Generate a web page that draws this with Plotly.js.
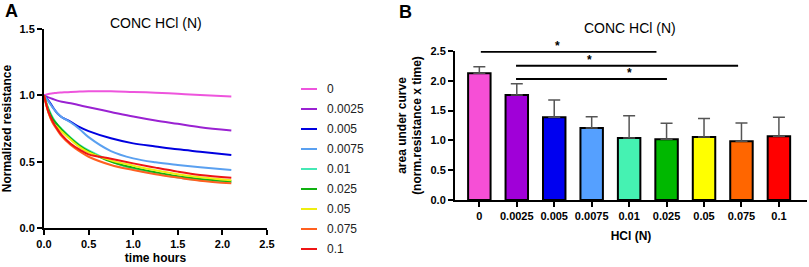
<!DOCTYPE html>
<html>
<head>
<meta charset="utf-8">
<script src="https://cdn.plot.ly/plotly-3.0.1.min.js"></script>
<style>html,body{margin:0;padding:0;background:#fff;}#chart{width:809px;height:267px;}</style>
</head>
<body>
<div id="chart"></div>
<script>
// ---------- Data ----------
const concLabels = ["0","0.0025","0.005","0.0075","0.01","0.025","0.05","0.075","0.1"];
const timeHours = [0, 0.05, 0.1, 0.15, 0.2, 0.3, 0.4, 0.5, 0.75, 1.0, 1.25, 1.5, 1.75, 2.1];
const res_0      = [1.0, 1.01, 1.015, 1.02, 1.022, 1.026, 1.028, 1.03, 1.03, 1.025, 1.02, 1.012, 1.003, 0.992];
const res_0025   = [1.0, 0.985, 0.972, 0.96, 0.952, 0.94, 0.925, 0.91, 0.875, 0.84, 0.81, 0.785, 0.76, 0.735];
const res_005    = [1.0, 0.96, 0.91, 0.864, 0.835, 0.80, 0.76, 0.73, 0.676, 0.638, 0.615, 0.593, 0.575, 0.55];
const res_0075   = [1.0, 0.955, 0.905, 0.865, 0.835, 0.795, 0.745, 0.685, 0.58, 0.525, 0.495, 0.475, 0.458, 0.437];
const res_001    = [1.0, 0.90, 0.83, 0.78, 0.745, 0.68, 0.625, 0.585, 0.505, 0.445, 0.41, 0.38, 0.36, 0.345];
const res_0025b  = [1.0, 0.89, 0.82, 0.78, 0.74, 0.675, 0.62, 0.578, 0.50, 0.455, 0.42, 0.39, 0.37, 0.352];
const res_005b   = [1.0, 0.87, 0.79, 0.76, 0.725, 0.665, 0.61, 0.57, 0.51, 0.47, 0.435, 0.405, 0.383, 0.36];
const res_0075b  = [1.0, 0.87, 0.79, 0.738, 0.69, 0.625, 0.577, 0.537, 0.475, 0.437, 0.405, 0.38, 0.357, 0.337];
const res_01     = [1.0, 0.875, 0.80, 0.745, 0.70, 0.635, 0.59, 0.555, 0.522, 0.487, 0.455, 0.425, 0.40, 0.378];
const resSeries = [res_0, res_0025, res_005, res_0075, res_001, res_0025b, res_005b, res_0075b, res_01];

const aucMean = [2.125, 1.76, 1.387, 1.208, 1.04, 1.018, 1.057, 0.984, 1.068];
const aucSD   = [0.11, 0.19, 0.29, 0.19, 0.375, 0.27, 0.31, 0.31, 0.32];

const sigFrom = [0.04, 0.98, 0.98];
const sigTo   = [4.73, 6.91, 5.01];
const sigY    = [2.488, 2.253, 2.03];
const sigStarX = [2.1, 2.95, 4.02];

const lineColors = ["#ee55dd","#9a22d2","#0000e0","#5aa0f0","#45e8b5","#10b010","#eeee10","#ff6020","#ee1515"];
const barColors  = ["#f64fd6","#a000d8","#0000f0","#55a0ff","#45f2b2","#00b800","#ffff00","#ff6600","#ff0000"];

// ---------- Traces ----------
const traces = [];
resSeries.forEach((ys, i) => {
  traces.push({
    x: timeHours, y: ys, type: 'scatter', mode: 'lines',
    line: {color: lineColors[i], width: 2, shape: 'spline', smoothing: 1},
    xaxis: 'x', yaxis: 'y', showlegend: false, hoverinfo: 'skip'
  });
});
traces.push({
  x: concLabels, y: aucMean, type: 'bar', xaxis: 'x2', yaxis: 'y2',
  marker: {color: barColors, line: {color: '#000', width: 2}},
  width: 0.6, showlegend: false,
  error_y: {type: 'data', array: aucSD, arrayminus: aucSD.map(() => 0), symmetric: false,
            color: '#555', thickness: 1.5, width: 6}
});

// ---------- Layout ----------
const W = 809, H = 267;
const FAM = 'Arial, "Liberation Sans", sans-serif';
const tickFont = {family: FAM, size: 11, color: '#000', weight: 'bold'};
const titleFont = {family: FAM, size: 12, color: '#000', weight: 'bold'};

const shapes = [];
const annotations = [];
// manual legend
concLabels.forEach((lab, i) => {
  const yc = 1 - (89 + 20 * i) / H;
  shapes.push({type: 'line', xref: 'paper', yref: 'paper', x0: 301 / W, x1: 317 / W, y0: yc, y1: yc,
               line: {color: lineColors[i], width: 2}});
  annotations.push({xref: 'paper', yref: 'paper', x: 325 / W, y: yc, xanchor: 'left', yanchor: 'middle',
                    text: lab, showarrow: false, font: {family: FAM, size: 12, color: '#222'}});
});
// significance bars
sigFrom.forEach((f, i) => {
  shapes.push({type: 'line', xref: 'x2', yref: 'y2', x0: f, x1: sigTo[i], y0: sigY[i], y1: sigY[i],
               line: {color: '#000', width: 2}});
  annotations.push({xref: 'x2', yref: 'y2', x: sigStarX[i], y: sigY[i], xanchor: 'center', yanchor: 'bottom',
                    text: '*', showarrow: false, yshift: -3,
                    font: {family: FAM, size: 12, color: '#000', weight: 'bold'}});
});
// panel titles and letters
annotations.push({xref: 'paper', yref: 'paper', x: 156 / W, y: 1 - 23 / H, text: 'CONC HCl (N)', showarrow: false,
                  xanchor: 'center', yanchor: 'middle', font: {family: FAM, size: 14, color: '#000'}});
annotations.push({xref: 'paper', yref: 'paper', x: 630 / W, y: 1 - 28 / H, text: 'CONC HCl (N)', showarrow: false,
                  xanchor: 'center', yanchor: 'middle', font: {family: FAM, size: 14, color: '#000'}});
annotations.push({xref: 'paper', yref: 'paper', x: 3 / W, y: 1 - 11 / H, text: 'A', showarrow: false,
                  xanchor: 'left', yanchor: 'middle', font: {family: FAM, size: 18, color: '#000', weight: 'bold'}});
annotations.push({xref: 'paper', yref: 'paper', x: 397 / W, y: 1 - 12 / H, text: 'B', showarrow: false,
                  xanchor: 'left', yanchor: 'middle', font: {family: FAM, size: 18, color: '#000', weight: 'bold'}});

const axisCommon = {
  showline: true, linecolor: '#000', linewidth: 2, ticks: 'outside', ticklen: 5, tickwidth: 2,
  tickcolor: '#000', showgrid: false, zeroline: false, tickfont: tickFont, fixedrange: true
};

const layout = {
  width: W, height: H, margin: {l: 0, r: 0, t: 0, b: 0},
  paper_bgcolor: '#fff', plot_bgcolor: '#fff', showlegend: false,
  xaxis: Object.assign({}, axisCommon, {domain: [44 / W, 267 / W], range: [0, 2.5], tickvals: [0, 0.5, 1, 1.5, 2, 2.5],
          ticktext: ['0.0','0.5','1.0','1.5','2.0','2.5'], anchor: 'y',
          title: {text: 'time hours', font: titleFont, standoff: 4}}),
  yaxis: Object.assign({}, axisCommon, {domain: [1 - 228 / H, 1 - 29 / H], range: [0, 1.5], tickvals: [0, 0.5, 1, 1.5],
          ticktext: ['0.0','0.5','1.0','1.5'], anchor: 'x',
          title: {text: 'Normalized resistance', font: titleFont, standoff: 6}}),
  xaxis2: Object.assign({}, axisCommon, {domain: [455 / W, 807 / W], range: [-0.65, 8.75], type: 'category', anchor: 'y2',
          title: {text: 'HCl (N)', font: titleFont, standoff: 10}}),
  yaxis2: Object.assign({}, axisCommon, {domain: [1 - 200 / H, 1 - 51 / H], range: [0, 2.5], tickvals: [0, 0.5, 1, 1.5, 2, 2.5],
          ticktext: ['0.0','0.5','1.0','1.5','2.0','2.5'], anchor: 'x2',
          title: {text: 'area under curve<br>(norm.resistance x time)', font: titleFont, standoff: 6}}),
  shapes: shapes, annotations: annotations, bargap: 0.4
};

Plotly.newPlot('chart', traces, layout, {displayModeBar: false, staticPlot: true});
</script>
</body>
</html>
